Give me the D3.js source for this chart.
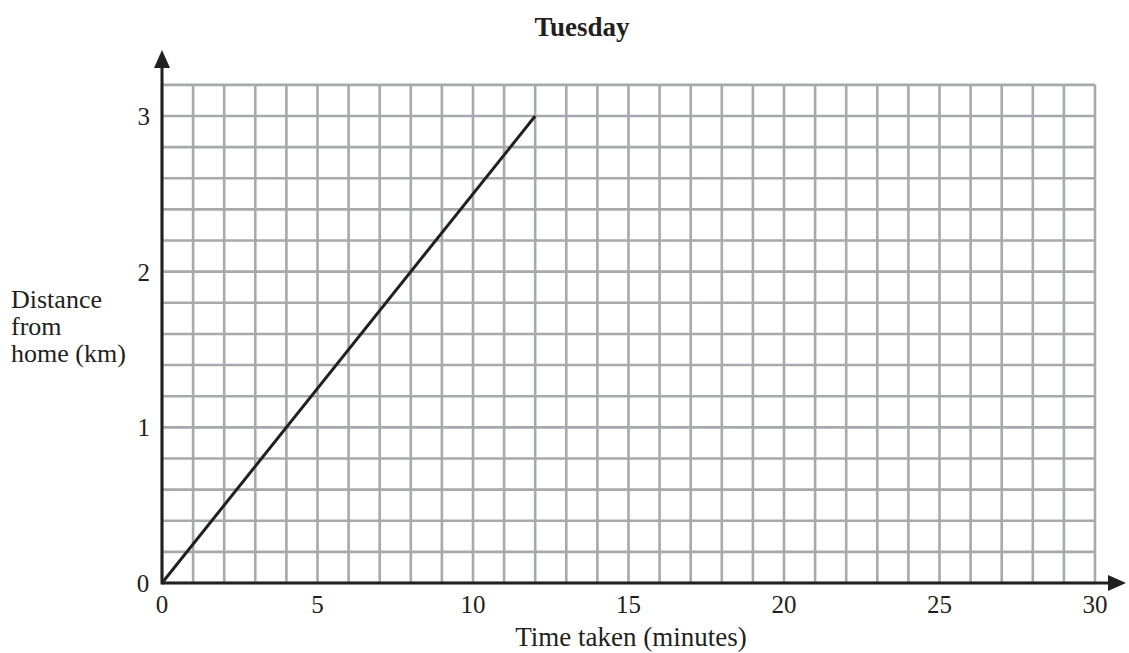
<!DOCTYPE html>
<html>
<head>
<meta charset="utf-8">
<script src="https://cdn.jsdelivr.net/npm/d3@7"></script>
<style>
  body { margin: 0; background: #fff; }
  text { font-family: "Liberation Serif", "DejaVu Serif", serif; fill: #231f20; }
</style>
</head>
<body>
<div id="graph"></div>
<script>
// datos
const title = "Tuesday";
const xTicks = [0, 5, 10, 15, 20, 25, 30];
const yTicks = [0, 1, 2, 3];
const timeMin = [0, 12];
const distKm = [0, 3];
const xLabel = "Time taken (minutes)";
const yLabel = ["Distance", "from", "home (km)"];

const width = 1129, height = 653;
const svg = d3.select("#graph").append("svg")
    .attr("width", width)
    .attr("height", height);

const x = d3.scaleLinear().domain([0, 30]).range([162, 1095]);
const y = d3.scaleLinear().domain([0, 3]).range([583, 116]);

// rejilla
const gridColor = "#a7a9ac";
const xGrid = d3.range(0, 31, 1);
const yGrid = d3.range(0, 17).map(i => i * 0.2);
const g = svg.append("g");
g.selectAll(".v").data(xGrid).enter().append("line")
    .attr("x1", d => x(d)).attr("x2", d => x(d))
    .attr("y1", y(0)).attr("y2", y(3.2))
    .attr("stroke", gridColor).attr("stroke-width", 2.6);
g.selectAll(".h").data(yGrid).enter().append("line")
    .attr("x1", x(0)).attr("x2", x(30))
    .attr("y1", d => y(d)).attr("y2", d => y(d))
    .attr("stroke", gridColor).attr("stroke-width", 2.6);

// ejes con flechas
svg.append("line").attr("x1", x(0)).attr("x2", 1112)
    .attr("y1", y(0)).attr("y2", y(0))
    .attr("stroke", "#231f20").attr("stroke-width", 3);
svg.append("path").attr("d", `M1126,${y(0)} L1108,${y(0) - 8} L1108,${y(0) + 8} Z`)
    .attr("fill", "#231f20");
svg.append("line").attr("x1", x(0)).attr("x2", x(0))
    .attr("y1", y(0) + 1.5).attr("y2", 62)
    .attr("stroke", "#231f20").attr("stroke-width", 3);
svg.append("path").attr("d", `M${x(0)},50 L${x(0) - 8},68 L${x(0) + 8},68 Z`)
    .attr("fill", "#231f20");

// línea
const line = d3.line().x((d, i) => x(timeMin[i])).y(d => y(d));
svg.append("path").datum(distKm)
    .attr("d", line)
    .attr("fill", "none")
    .attr("stroke", "#231f20")
    .attr("stroke-width", 3);

// etiquetas
const fs = 25;
svg.selectAll(".xt").data(xTicks).enter().append("text")
    .attr("x", d => x(d)).attr("y", 613)
    .attr("text-anchor", "middle")
    .attr("font-size", fs)
    .text(d => d);
svg.selectAll(".yt").data(yTicks.filter(d => d > 0)).enter().append("text")
    .attr("x", 150).attr("y", d => y(d) + 9)
    .attr("text-anchor", "end")
    .attr("font-size", fs)
    .text(d => d);
svg.append("text").attr("x", 143).attr("y", 592)
    .attr("text-anchor", "middle").attr("font-size", fs).text("0");

svg.append("text").attr("x", 631).attr("y", 646)
    .attr("text-anchor", "middle").attr("font-size", 27).text(xLabel);
svg.selectAll(".yl").data(yLabel).enter().append("text")
    .attr("x", 11).attr("y", (d, i) => 308 + i * 27)
    .attr("font-size", 26)
    .text(d => d);

svg.append("text").attr("x", 582).attr("y", 36)
    .attr("text-anchor", "middle")
    .attr("font-size", 27).attr("font-weight", "bold")
    .text(title);
</script>
</body>
</html>
